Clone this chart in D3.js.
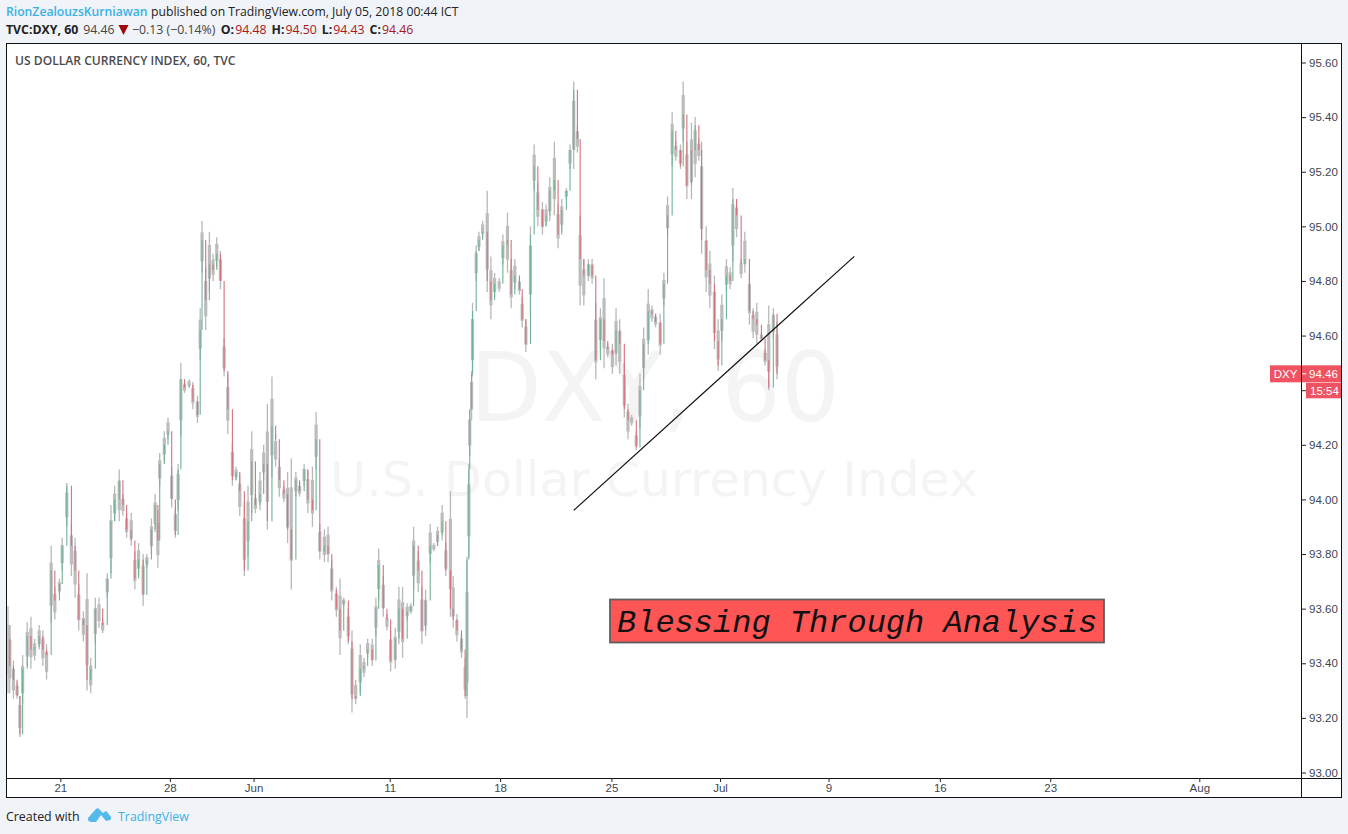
<!DOCTYPE html>
<html><head><meta charset="utf-8">
<script src="https://cdnjs.cloudflare.com/ajax/libs/d3/7.8.5/d3.min.js"></script>
<style>html,body{margin:0;padding:0;background:#f0f3f7;overflow:hidden}svg{display:block}</style>
</head><body><svg id="c" width="1348" height="834"></svg>
<script>
const barIndex=[0,3,7,11,14,17,22,26,30,35,39,43,48,52,57,60,65,70,74,78,83,87,91,96,100,104,109,113,117,122,126,130,135,139,143,148,152,157,161,164,166,171,175,179,183,186,189,193,198,202,207,210,212,216,220,224,228,232,236,240,245,249,253,258,262,266,270,275,279,283,288,292,296,301,305,309,314,318,323,327,332,336,340,345,349,353,358,362,366,371,375,379,384,388,392,397,401,404,409,413,417,422,426,430,435,439,442,447,451,455,460,464,468,473,477,482,485,489,494,498,500,502,503,505,506,510,513,517,522,526,530,535,539,544,548,552,557,560,564,569,573,577,582,586,590,595,599,603,608,612,616,620,623,627,632,636,640,645,649,653,658,662,666,671,675,679,684,688,692,697,701,705,710,714,718,723,727,732,735,739,744,748,752,755,760,764,769,773,777,782,786,789,793,798,802,807,811,815,820,824,828,833,837];
const highs=[93.61,93.54,93.41,93.33,93.28,93.43,93.55,93.57,93.49,93.54,93.52,93.47,93.83,93.68,93.71,93.86,94.06,93.91,93.86,93.69,93.59,93.73,93.42,93.64,93.64,93.56,93.73,93.98,94.05,94.11,94.02,93.95,93.95,93.81,93.84,93.80,93.80,93.93,94.02,93.96,94.17,94.25,94.30,94.12,93.97,94.13,94.50,94.43,94.44,94.43,94.38,94.70,95.02,94.85,94.98,94.90,94.96,94.91,94.59,94.46,94.21,94.12,94.09,93.99,94.05,94.25,94.02,94.10,94.20,94.35,94.45,94.24,94.15,94.05,94.10,94.15,94.10,94.06,94.13,94.11,94.12,94.32,93.91,93.89,93.90,93.78,93.68,93.71,93.64,93.60,93.52,93.34,93.47,93.42,93.49,93.49,93.64,93.82,93.72,93.58,93.52,93.53,93.68,93.68,93.62,93.62,93.90,93.81,93.68,93.67,93.91,93.84,93.90,93.98,93.84,94.03,93.72,93.58,93.51,93.42,93.79,94.13,94.33,94.47,94.72,94.93,94.98,95.02,95.13,94.89,94.83,94.81,94.97,95.05,94.88,94.88,94.81,94.74,94.66,95.00,95.30,95.16,95.09,95.08,95.18,95.31,95.08,95.10,95.14,95.30,95.53,95.37,95.04,94.88,94.88,94.88,94.72,94.70,94.81,94.57,94.57,94.70,94.66,94.50,94.35,94.31,94.25,94.46,94.63,94.77,94.71,94.68,94.68,94.83,95.11,95.42,95.31,95.30,95.53,95.31,95.38,95.40,95.32,95.31,95.00,94.91,94.82,94.66,94.75,94.88,94.85,95.14,95.10,94.88,94.98,94.83,94.70,94.72,94.61,94.55,94.71,94.70,94.65];
const lows=[93.29,93.29,93.27,93.27,93.13,93.25,93.39,93.38,93.41,93.45,93.39,93.34,93.55,93.56,93.65,93.74,93.90,93.72,93.64,93.52,93.48,93.30,93.29,93.47,93.53,93.51,93.64,93.73,93.92,93.92,93.94,93.86,93.83,93.67,93.72,93.61,93.75,93.80,93.88,93.75,94.05,94.14,94.22,93.97,93.86,93.96,94.23,94.39,94.41,94.33,94.28,94.51,94.83,94.62,94.76,94.80,94.85,94.77,94.45,94.24,94.05,94.07,93.94,93.72,93.79,93.95,93.95,93.96,94.07,93.89,94.08,94.12,94.01,93.99,93.84,93.67,94.01,94.01,94.05,93.95,93.90,94.11,93.78,93.77,93.77,93.63,93.57,93.43,93.61,93.47,93.22,93.25,93.29,93.35,93.42,93.39,93.50,93.63,93.57,93.52,93.37,93.38,93.47,93.42,93.56,93.58,93.67,93.66,93.47,93.50,93.77,93.81,93.83,93.85,93.72,93.57,93.53,93.48,93.42,93.27,93.20,93.79,94.16,94.29,94.45,94.80,94.91,94.96,94.76,94.66,94.74,94.76,94.86,94.83,94.70,94.77,94.75,94.63,94.54,94.68,95.13,95.00,94.97,95.00,95.02,95.04,94.92,94.98,95.10,95.21,95.21,95.27,94.71,94.71,94.80,94.79,94.44,94.55,94.48,94.52,94.46,94.49,94.46,94.30,94.22,94.27,94.18,94.26,94.44,94.53,94.65,94.63,94.53,94.71,94.96,95.22,95.24,95.21,95.31,95.10,95.10,95.18,95.24,94.90,94.76,94.70,94.55,94.47,94.58,94.76,94.77,94.87,94.96,94.81,94.83,94.64,94.59,94.57,94.58,94.49,94.40,94.59,94.44];
const closes=[93.49,93.39,93.34,93.28,93.14,93.38,93.50,93.45,93.46,93.50,93.45,93.43,93.74,93.63,93.69,93.83,94.05,93.83,93.74,93.56,93.54,93.34,93.38,93.60,93.60,93.54,93.71,93.92,94.00,94.07,93.98,93.89,93.85,93.71,93.78,93.65,93.78,93.89,93.98,93.85,94.13,94.20,94.25,94.00,93.87,94.11,94.44,94.41,94.42,94.36,94.31,94.62,94.95,94.73,94.86,94.84,94.90,94.80,94.47,94.33,94.07,94.10,94.03,93.74,93.92,94.14,93.98,94.02,94.13,93.92,94.27,94.22,94.07,94.02,93.89,93.78,94.07,94.03,94.11,94.00,93.96,94.22,93.81,93.83,93.80,93.67,93.60,93.52,93.63,93.48,93.27,93.28,93.38,93.39,93.45,93.41,93.60,93.76,93.60,93.56,93.41,93.49,93.60,93.49,93.59,93.61,93.83,93.74,93.52,93.63,93.83,93.83,93.87,93.92,93.74,93.60,93.56,93.52,93.45,93.28,93.78,94.11,94.33,94.46,94.69,94.91,94.95,94.98,94.80,94.73,94.79,94.79,94.93,94.95,94.75,94.82,94.77,94.66,94.57,94.97,95.22,95.06,95.00,95.04,95.13,95.17,94.97,95.06,95.13,95.28,95.50,95.32,94.88,94.82,94.86,94.82,94.51,94.66,94.58,94.55,94.53,94.62,94.57,94.33,94.29,94.29,94.19,94.40,94.57,94.69,94.68,94.65,94.57,94.79,95.04,95.35,95.28,95.22,95.41,95.15,95.28,95.37,95.28,94.95,94.84,94.79,94.58,94.49,94.66,94.82,94.80,95.10,95.04,94.86,94.88,94.69,94.66,94.64,94.59,94.51,94.41,94.68,94.46];
const priceTicks=[95.6,95.4,95.2,95.0,94.8,94.6,94.4,94.2,94.0,93.8,93.6,93.4,93.2,93.0];
const hiddenPriceTick=94.4;
const timeTickBars=[58,177,268,416,536,657,775,893,1014,1134,1296];
const timeTickLabels=["21","28","Jun","11","18","25","Jul","9","16","23","Aug"];
const trendBars=[616,921];
const trendPrices=[93.96,94.89];
const lastPrice=94.46;

const svg=d3.select("#c");
const L=7,R=1302,T=44,B=778,AR=1341,AB=797;
const x=d3.scaleLinear().domain([0,1396]).range([7,1291.3]);
const y=d3.scaleLinear().domain([93,95.6]).range([772.5,62.5]);
const SANS='"Open Sans",sans-serif', AX='"Liberation Sans",Arial,sans-serif', WM='"DejaVu Sans",sans-serif';

const f=svg.append("defs").append("filter").attr("id","soft").attr("filterUnits","userSpaceOnUse").attr("x",0).attr("y",40).attr("width",1310).attr("height",745);
f.append("feGaussianBlur").attr("stdDeviation",0.35);

svg.append("rect").attr("width",1348).attr("height",834).attr("fill","#f0f3f7");
svg.append("rect").attr("x",L-.5).attr("y",T-.5).attr("width",AR-L+1).attr("height",AB-T+1).attr("fill","#fff").attr("stroke","#111").attr("stroke-width",1);

// watermark
svg.append("text").attr("x",655).attr("y",421).attr("text-anchor","middle").attr("font-family",WM).attr("font-size",96).attr("textLength",370).attr("lengthAdjust","spacingAndGlyphs").attr("fill","#f4f4f4").text("DXY, 60");
svg.append("text").attr("x",654).attr("y",496).attr("text-anchor","middle").attr("font-family",WM).attr("font-size",48).attr("textLength",648).attr("lengthAdjust","spacingAndGlyphs").attr("fill","#f4f4f4").text("U.S. Dollar Currency Index");

// candles
const idx=d3.range(barIndex.length);
const gc=svg.append("g").attr("filter","url(#soft)").attr("clip-path",null);
gc.append("g").attr("stroke","#b8b8b8").attr("stroke-width",1.3).selectAll("line").data(idx).join("line")
  .attr("x1",i=>Math.max(x(barIndex[i]),8)).attr("x2",i=>Math.max(x(barIndex[i]),8))
  .attr("y1",i=>y(highs[i])).attr("y2",i=>y(lows[i]));
gc.append("g").attr("stroke","#bcbcbc").attr("stroke-width",3.2).selectAll("line").data(idx).join("line")
  .attr("x1",i=>Math.max(x(barIndex[i]),9)).attr("x2",i=>Math.max(x(barIndex[i]),9))
  .attr("y1",i=>y(highs[i]-(highs[i]-lows[i])*.22)).attr("y2",i=>y(lows[i]+(highs[i]-lows[i])*.22));
gc.append("g").attr("stroke-width",1.1).selectAll("line").data(idx.slice(1)).join("line")
  .attr("x1",i=>x(barIndex[i])).attr("x2",i=>x(barIndex[i]))
  .attr("y1",i=>y(closes[i-1])).attr("y2",i=>y(closes[i]))
  .attr("stroke",i=>closes[i]>=closes[i-1]?"#6fb394":"#d4727c");

// trend line
svg.append("line").attr("x1",x(trendBars[0])).attr("y1",y(trendPrices[0])).attr("x2",x(trendBars[1])).attr("y2",y(trendPrices[1])).attr("stroke","#111").attr("stroke-width",1.2);

// annotation
svg.append("rect").attr("x",610).attr("y",599.5).attr("width",494).attr("height",43).attr("fill","#ff5555").attr("stroke","#5e5e5e").attr("stroke-width",1.8);
svg.append("text").attr("x",617).attr("y",632).attr("font-family",'"Liberation Mono",monospace').attr("font-style","italic").attr("font-size",32).attr("fill","#111").text("Blessing Through Analysis");

// axes
svg.append("line").attr("x1",L).attr("x2",AR).attr("y1",B+.5).attr("y2",B+.5).attr("stroke","#111");
svg.append("line").attr("x1",R-.5).attr("x2",R-.5).attr("y1",T).attr("y2",AB).attr("stroke","#111");
const gy=svg.append("g").attr("transform",`translate(${R},0)`)
  .call(d3.axisRight(y).tickValues(priceTicks).tickSize(4).tickPadding(3).tickFormat(v=>Math.abs(v-hiddenPriceTick)<1e-9?"":d3.format(".2f")(v)));
gy.select(".domain").remove();
gy.selectAll("line").attr("stroke","#222");
gy.selectAll("text").attr("font-family",AX).attr("font-size",11.5).attr("fill","#40454f");
const gx=svg.append("g").attr("transform",`translate(0,${B})`)
  .call(d3.axisBottom(x).tickValues(timeTickBars).tickSize(4).tickPadding(2).tickFormat((d,i)=>timeTickLabels[i]));
gx.select(".domain").remove();
gx.selectAll("line").attr("stroke","#222");
gx.selectAll("text").attr("font-family",AX).attr("font-size",11.5).attr("fill","#40454f");

// price labels
const RED="#ef5361";
const py=y(lastPrice);
svg.append("rect").attr("x",1270).attr("y",py-8.5).attr("width",31).attr("height",17).attr("fill",RED);
svg.append("text").attr("x",1285.5).attr("y",py+4.2).attr("text-anchor","middle").attr("font-family",AX).attr("font-size",11.5).attr("fill","#fff").text("DXY");
svg.append("rect").attr("x",1302).attr("y",py-8.5).attr("width",39).attr("height",17).attr("fill",RED);
svg.append("line").attr("x1",1302).attr("x2",1306).attr("y1",py).attr("y2",py).attr("stroke","#fff");
svg.append("text").attr("x",1309).attr("y",py+4.2).attr("font-family",AX).attr("font-size",11.5).attr("fill","#fff").text("94.46");
svg.append("rect").attr("x",1306).attr("y",py+9).attr("width",35).attr("height",15.5).attr("fill",RED);
svg.append("text").attr("x",1310).attr("y",py+20.8).attr("font-family",AX).attr("font-size",11.5).attr("fill","#fff").text("15:54");

// pane title
svg.append("text").attr("x",15).attr("y",64.5).attr("font-family",SANS).attr("font-weight",600).attr("font-size",12.1).attr("fill","#4a4a4a").text("US DOLLAR CURRENCY INDEX, 60, TVC");

// header
const h1=svg.append("text").attr("x",6).attr("y",16).attr("font-family",SANS).attr("font-size",12.2).attr("fill","#222");
h1.append("tspan").attr("fill","#3bb1e6").attr("font-weight",600).text("RionZealouzsKurniawan");
h1.append("tspan").attr("dx",3.5).text("published on TradingView.com, July 05, 2018 00:44 ICT");
const h2=svg.append("text").attr("x",6).attr("y",34).attr("font-family",SANS).attr("font-size",12.3).attr("fill","#222");
h2.append("tspan").attr("font-weight",700).text("TVC:DXY, 60");
h2.append("tspan").attr("dx",5).attr("fill","#444").text("94.46");
svg.append("path").attr("d",d3.line()([[118.5,25],[128.5,25],[123.5,35]])+"Z").attr("fill","#9c0a0a");
const h3=svg.append("text").attr("x",132).attr("y",34).attr("font-family",SANS).attr("font-size",12.3).attr("fill","#444");
h3.append("tspan").text("−0.13 (−0.14%)");
[["O:","94.48"],["H:","94.50"],["L:","94.43"],["C:","94.46"]].forEach((p,i)=>{
  h3.append("tspan").attr("dx",i?5:5.5).attr("font-weight",700).attr("fill","#222").text(p[0]);
  h3.append("tspan").attr("dx",1).attr("fill","#a81818").text(p[1]);
});

// footer
svg.append("text").attr("x",6).attr("y",821).attr("font-family",SANS).attr("font-size",12.4).attr("fill","#222").text("Created with");
svg.append("path").attr("d","M88 818 L96 809 Q97.5 807.5 99 809 L103 813 L105 811.5 Q106 810.5 107 812 L111 817 Q112 819 110 820 L106 821 L101 815 L96 822 L91 822 Q87 821 88 818Z").attr("fill","#55b9ea");
svg.append("text").attr("x",118).attr("y",821).attr("font-family",SANS).attr("font-size",12.4).attr("fill","#3bb1e6").text("TradingView");
</script></body></html>
